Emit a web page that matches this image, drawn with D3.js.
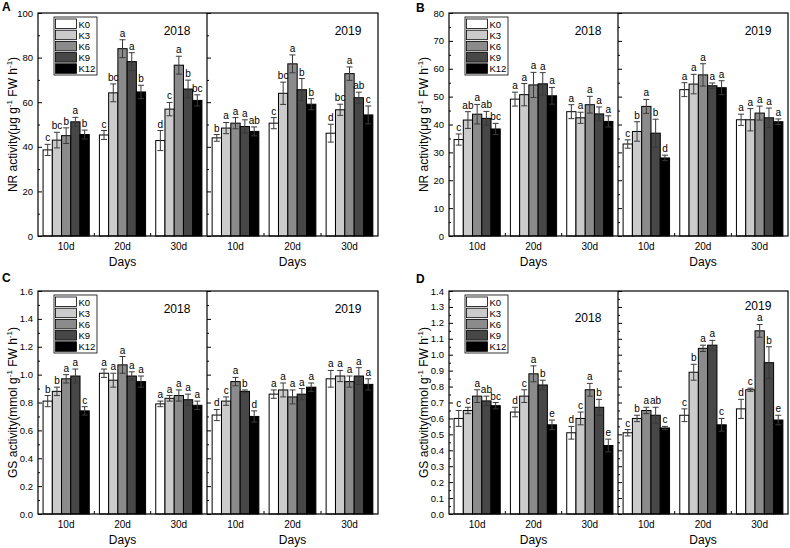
<!DOCTYPE html>
<html>
<head>
<meta charset="utf-8">
<script src="https://cdn.jsdelivr.net/npm/d3@7"></script>
<style>
  body { margin: 0; background: #fff; }
  text { font-family: "Liberation Sans", Arial, sans-serif; }
</style>
</head>
<body>
<svg id="chart" width="790" height="548"></svg>
<script>
const days = ["10d", "20d", "30d"];
const treatments = ["K0", "K3", "K6", "K9", "K12"];
const years = ["2018", "2019"];

// panel A - NR activity
const aMean2018 = [[38.6, 43.0, 45.0, 51.2, 45.5], [45.3, 64.2, 84.0, 78.2, 64.6], [42.8, 56.9, 76.6, 65.9, 60.8]];
const aErr2018 = [[2.5, 3.5, 3.5, 2.0, 2.0], [2.0, 4.0, 4.0, 4.0, 3.0], [4.5, 3.0, 4.0, 4.0, 2.5]];
const aSig2018 = [["c", "bc", "b", "a", "b"], ["c", "bc", "a", "a", "b"], ["d", "c", "a", "b", "bc"]];
const aMean2019 = [[44.0, 48.4, 50.6, 49.1, 46.9], [50.6, 64.0, 77.2, 65.6, 59.1], [46.1, 56.6, 72.8, 62.0, 54.3]];
const aErr2019 = [[1.5, 2.5, 2.5, 3.0, 2.0], [2.5, 5.0, 4.0, 5.0, 2.5], [4.0, 2.5, 3.0, 2.5, 4.0]];
const aSig2019 = [["b", "a", "a", "a", "ab"], ["c", "bc", "a", "b", "b"], ["d", "bc", "a", "ab", "c"]];

// panel B - NR activity
const bMean2018 = [[34.6, 41.6, 43.7, 42.2, 38.4], [49.1, 50.7, 54.2, 54.6, 50.3], [44.6, 42.4, 47.1, 43.8, 41.1]];
const bErr2018 = [[2.0, 3.0, 3.5, 2.5, 2.0], [2.5, 4.0, 4.5, 4.0, 3.0], [2.5, 2.0, 3.0, 2.5, 2.0]];
const bSig2018 = [["c", "ab", "a", "ab", "bc"], ["a", "a", "a", "a", "a"], ["a", "a", "a", "a", "a"]];
const bMean2019 = [[33.0, 37.5, 46.5, 36.9, 28.0], [52.5, 54.5, 57.8, 53.9, 53.2], [41.7, 41.7, 44.1, 42.4, 41.0]];
const bErr2019 = [[1.5, 3.5, 2.5, 5.0, 1.0], [2.5, 3.5, 4.0, 1.0, 2.5], [2.0, 4.0, 2.5, 3.5, 1.0]];
const bSig2019 = [["c", "b", "a", "b", "d"], ["a", "a", "a", "a", "a"], ["a", "a", "a", "a", "a"]];

// panel C - GS activity
const cMean2018 = [[0.81, 0.88, 0.97, 0.99, 0.74], [1.01, 0.96, 1.07, 0.99, 0.95], [0.79, 0.83, 0.85, 0.82, 0.78]];
const cErr2018 = [[0.04, 0.03, 0.03, 0.05, 0.03], [0.03, 0.05, 0.06, 0.03, 0.04], [0.02, 0.02, 0.04, 0.04, 0.03]];
const cSig2018 = [["b", "b", "a", "a", "c"], ["a", "a", "a", "a", "a"], ["a", "a", "a", "a", "a"]];
const cMean2019 = [[0.71, 0.81, 0.95, 0.88, 0.70], [0.86, 0.89, 0.84, 0.86, 0.91], [0.97, 0.99, 0.95, 0.99, 0.93]];
const cErr2019 = [[0.04, 0.03, 0.03, 0.01, 0.04], [0.03, 0.05, 0.05, 0.04, 0.03], [0.06, 0.04, 0.04, 0.06, 0.04]];
const cSig2019 = [["d", "c", "a", "b", "d"], ["a", "a", "a", "a", "a"], ["a", "a", "a", "a", "a"]];

// panel D - GS activity
const dMean2018 = [[0.60, 0.65, 0.74, 0.71, 0.68], [0.64, 0.74, 0.88, 0.81, 0.56], [0.51, 0.60, 0.78, 0.67, 0.43]];
const dErr2018 = [[0.05, 0.02, 0.04, 0.03, 0.02], [0.03, 0.04, 0.05, 0.03, 0.03], [0.04, 0.04, 0.04, 0.05, 0.04]];
const dSig2018 = [["c", "c", "a", "ab", "bc"], ["d", "c", "a", "b", "e"], ["d", "c", "a", "b", "e"]];
const dMean2019 = [[0.51, 0.60, 0.65, 0.62, 0.54], [0.62, 0.89, 1.04, 1.06, 0.56], [0.66, 0.78, 1.15, 0.95, 0.59]];
const dErr2019 = [[0.02, 0.02, 0.02, 0.05, 0.01], [0.04, 0.05, 0.02, 0.03, 0.04], [0.06, 0.01, 0.04, 0.10, 0.03]];
const dSig2019 = [["c", "b", "a", "ab", "c"], ["c", "b", "a", "a", "c"], ["d", "c", "a", "b", "e"]];

// tick labels
const ticksA = [0, 20, 40, 60, 80, 100];
const ticksB = [0, 10, 20, 30, 40, 50, 60, 70, 80];
const ticksC = [0, 0.2, 0.4, 0.6, 0.8, 1.0, 1.2, 1.4, 1.6];
const ticksD = [0, 0.1, 0.2, 0.3, 0.4, 0.5, 0.6, 0.7, 0.8, 0.9, 1.0, 1.1, 1.2, 1.3, 1.4];

const fills = ["#ffffff", "#cbcbcb", "#8b8b8b", "#474747", "#000000"];

const panels = [
  { id: "A", x0: 38, xm: 207, x1: 378, y0: 13, y1: 236, ticks: ticksA, fmt: "d", unit: "μg",
    sets: [[aMean2018, aErr2018, aSig2018], [aMean2019, aErr2019, aSig2019]], yearY: [35, 35], lab: [2, 11] },
  { id: "B", x0: 449, xm: 618, x1: 788, y0: 13, y1: 236, ticks: ticksB, fmt: "d", unit: "μg",
    sets: [[bMean2018, bErr2018, bSig2018], [bMean2019, bErr2019, bSig2019]], yearY: [35, 35], lab: [416, 12] },
  { id: "C", x0: 38, xm: 207, x1: 378, y0: 291, y1: 514, ticks: ticksC, fmt: ".1f", unit: "mmol",
    sets: [[cMean2018, cErr2018, cSig2018], [cMean2019, cErr2019, cSig2019]], yearY: [313, 313], lab: [2, 282] },
  { id: "D", x0: 449, xm: 618, x1: 788, y0: 291, y1: 514, ticks: ticksD, fmt: ".1f", unit: "mmol",
    sets: [[dMean2018, dErr2018, dSig2018], [dMean2019, dErr2019, dSig2019]], yearY: [322, 310], lab: [416, 283] }
];

const svg = d3.select("#chart");

panels.forEach(p => {
  const g = svg.append("g");
  const yMax = p.ticks[p.ticks.length - 1];
  const y = d3.scaleLinear().domain([0, yMax]).range([p.y1, p.y0]);
  const step = p.ticks[1] - p.ticks[0];
  const minor = p.ticks.slice(1).map(t => t - step / 2);
  const fmt = d3.format(p.fmt);

  // left axis, ticks inside
  const left = g.append("g").attr("transform", `translate(${p.x0},0)`)
    .call(d3.axisLeft(y).tickValues(p.ticks).tickSizeInner(-4).tickSizeOuter(0).tickPadding(5).tickFormat(fmt));
  left.select(".domain").remove();
  left.selectAll("text").attr("font-size", 9.5).attr("fill", "#000");
  const leftMinor = g.append("g").attr("transform", `translate(${p.x0},0)`)
    .call(d3.axisLeft(y).tickValues(minor).tickSizeInner(-2).tickSizeOuter(0).tickFormat(""));
  leftMinor.select(".domain").remove();

  // divider axis of the second year
  const mid = g.append("g").attr("transform", `translate(${p.xm},0)`)
    .call(d3.axisRight(y).tickValues(p.ticks).tickSizeInner(4).tickSizeOuter(0).tickFormat(""));
  mid.select(".domain").remove();
  const midMinor = g.append("g").attr("transform", `translate(${p.xm},0)`)
    .call(d3.axisRight(y).tickValues(minor).tickSizeInner(2).tickSizeOuter(0).tickFormat(""));
  midMinor.select(".domain").remove();

  // y title
  const title = g.append("text")
    .attr("transform", `translate(${p.x0 - 21},${(p.y0 + p.y1) / 2}) rotate(-90)`)
    .attr("text-anchor", "middle").attr("font-size", 12);
  const name = p.unit === "μg" ? "NR" : "GS";
  title.append("tspan").text(`${name} activity(${p.unit} g`);
  title.append("tspan").attr("font-size", 8).attr("dy", -5).text("-1");
  title.append("tspan").attr("dy", 5).text(" FW h");
  title.append("tspan").attr("font-size", 8).attr("dy", -5).text("-1");
  title.append("tspan").attr("dy", 5).text(")");

  // panel letter
  g.append("text").attr("x", p.lab[0]).attr("y", p.lab[1])
    .attr("font-size", 12).attr("font-weight", "bold").text(p.id);

  const halves = [[p.x0, p.xm], [p.xm, p.x1]];
  halves.forEach((h, hi) => {
    const x = d3.scaleBand().domain(days).range(h).paddingInner(0.18).paddingOuter(0.09);
    const xs = d3.scaleBand().domain(treatments).range([0, x.bandwidth()]);
    const [mean, err, sig] = p.sets[hi];

    const rows = [];
    days.forEach((d, di) => treatments.forEach((t, ti) => {
      rows.push({ day: d, t: t, i: ti, v: mean[di][ti], e: err[di][ti], s: sig[di][ti] });
    }));

    // bars
    g.append("g").selectAll("rect").data(rows).join("rect")
      .attr("x", r => x(r.day) + xs(r.t))
      .attr("y", r => y(r.v))
      .attr("width", xs.bandwidth())
      .attr("height", r => y(0) - y(r.v))
      .attr("fill", r => fills[r.i])
      .attr("stroke", "#000").attr("stroke-width", 1);

    // error bars
    const eb = g.append("g").attr("stroke", "#3a3a3a").attr("stroke-width", 1);
    rows.forEach(r => {
      const cx = x(r.day) + xs(r.t) + xs.bandwidth() / 2;
      eb.append("line").attr("x1", cx).attr("x2", cx).attr("y1", y(r.v - r.e)).attr("y2", y(r.v + r.e));
      eb.append("line").attr("x1", cx - 3).attr("x2", cx + 3).attr("y1", y(r.v + r.e)).attr("y2", y(r.v + r.e));
      eb.append("line").attr("x1", cx - 3).attr("x2", cx + 3).attr("y1", y(r.v - r.e)).attr("y2", y(r.v - r.e));
    });

    // significance letters
    g.append("g").selectAll("text").data(rows).join("text")
      .attr("x", r => x(r.day) + xs(r.t) + xs.bandwidth() / 2)
      .attr("y", r => y(r.v + r.e) - 3)
      .attr("text-anchor", "middle").attr("font-size", 10)
      .text(r => r.s);

    // x tick labels
    g.append("g").selectAll("text").data(days).join("text")
      .attr("x", d => x(d) + x.bandwidth() / 2)
      .attr("y", p.y1 + 14)
      .attr("text-anchor", "middle").attr("font-size", 10)
      .text(d => d);

    // small ticks between groups
    days.slice(1).forEach(d => {
      const bx = x(d) - x.step() * 0.09;
      g.append("line").attr("x1", bx).attr("x2", bx).attr("y1", p.y1).attr("y2", p.y1 - 3)
        .attr("stroke", "#000");
    });

    g.append("text").attr("x", (h[0] + h[1]) / 2).attr("y", p.y1 + 30)
      .attr("text-anchor", "middle").attr("font-size", 12).text("Days");

    g.append("text").attr("x", h[1] - 30).attr("y", p.yearY[hi])
      .attr("text-anchor", "middle").attr("font-size", 12).text(years[hi]);
  });

  // frame
  g.append("rect").attr("x", p.x0).attr("y", p.y0)
    .attr("width", p.x1 - p.x0).attr("height", p.y1 - p.y0)
    .attr("fill", "none").attr("stroke", "#000").attr("stroke-width", 1.2);
  g.append("line").attr("x1", p.xm).attr("x2", p.xm).attr("y1", p.y0).attr("y2", p.y1)
    .attr("stroke", "#000").attr("stroke-width", 1.2);

  // legend
  const lx = p.x0 + 16, ly = p.y0 + 4;
  const leg = g.append("g").attr("transform", `translate(${lx},${ly})`);
  leg.append("rect").attr("x", 0).attr("y", 0).attr("width", 43).attr("height", 58)
    .attr("fill", "#fff").attr("stroke", "#000").attr("stroke-width", 0.8);
  treatments.forEach((t, i) => {
    leg.append("rect").attr("x", 1.5).attr("y", 2 + i * 11.2).attr("width", 21).attr("height", 9.5)
      .attr("fill", fills[i]).attr("stroke", "#000").attr("stroke-width", 0.8);
    leg.append("text").attr("x", 24.5).attr("y", 10.5 + i * 11.2).attr("font-size", 9.5).text(t);
  });
});
</script>
</body>
</html>
